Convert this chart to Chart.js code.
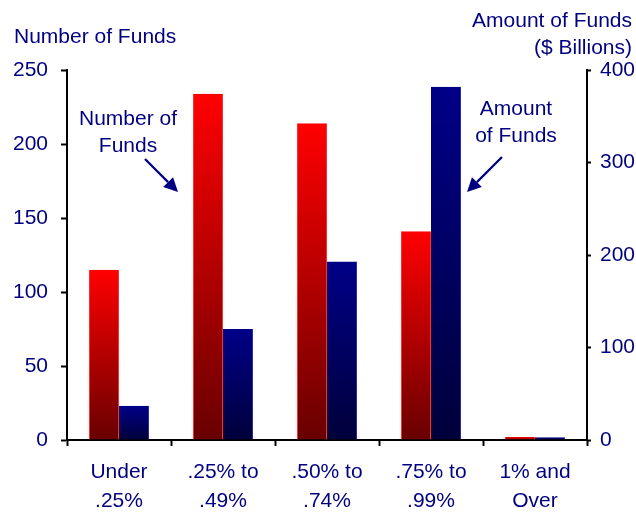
<!DOCTYPE html>
<html>
<head>
<meta charset="utf-8">
<script src="https://cdn.jsdelivr.net/npm/chart.js@4.4.0/dist/chart.umd.min.js"></script>
<style>
  html, body { margin: 0; padding: 0; background: #ffffff; }
  #wrap { width: 636px; height: 512px; position: relative; }
</style>
</head>
<body>
<div id="wrap"><canvas id="c" width="636" height="512"></canvas></div>
<script>
// ---- data ----
const categories = [['Under', '.25%'], ['.25% to', '.49%'], ['.50% to', '.74%'], ['.75% to', '.99%'], ['1% and', 'Over']];
const numberOfFunds = [115, 234, 214, 141, 2];
const amountOfFunds = [37, 120, 193, 382, 3];   // $ billions
const leftTicks = [0, 50, 100, 150, 200, 250];
const rightTicks = [0, 100, 200, 300, 400];
const leftTitle = 'Number of Funds';
const rightTitle = ['Amount of Funds', '($ Billions)'];
const noteNumber = ['Number of', 'Funds'];
const noteAmount = ['Amount', 'of Funds'];

const NAVY = '#000080';
const FONT = "'Liberation Sans', Arial, sans-serif";
Chart.defaults.font.family = FONT;
Chart.defaults.font.size = 21;
Chart.defaults.color = NAVY;

function barGradient(ctx, axisId, topColor, bottomColor) {
  const chart = ctx.chart;
  const sc = chart.scales[axisId];
  if (!sc || ctx.raw == null) return topColor;
  const y0 = sc.getPixelForValue(ctx.raw);
  const y1 = sc.getPixelForValue(0);
  if (!isFinite(y0) || !isFinite(y1) || y0 === y1) return topColor;
  const g = chart.ctx.createLinearGradient(0, y0, 0, y1);
  g.addColorStop(0, topColor);
  g.addColorStop(1, bottomColor);
  return g;
}

const annotations = {
  id: 'annotations',
  afterDraw(chart) {
    const c = chart.ctx;
    c.save();
    c.fillStyle = NAVY;
    c.font = '21px ' + FONT;
    c.textBaseline = 'alphabetic';
    c.textAlign = 'left';
    c.fillText(leftTitle, 14, 43);
    c.textAlign = 'right';
    c.fillText(rightTitle[0], 632, 27);
    c.fillText(rightTitle[1], 632, 54);
    c.textAlign = 'center';
    c.fillText(noteNumber[0], 128, 125);
    c.fillText(noteNumber[1], 128, 152);
    c.fillText(noteAmount[0], 516, 115);
    c.fillText(noteAmount[1], 516, 142);
    // arrows
    function arrow(x1, y1, x2, y2) {
      const ang = Math.atan2(y2 - y1, x2 - x1);
      const hl = 14, hw = 7;
      const bx = x2 - hl * Math.cos(ang), by = y2 - hl * Math.sin(ang);
      c.strokeStyle = NAVY;
      c.lineWidth = 2.2;
      c.beginPath(); c.moveTo(x1, y1); c.lineTo(bx, by); c.stroke();
      c.beginPath();
      c.moveTo(x2, y2);
      c.lineTo(bx + hw * Math.sin(ang), by - hw * Math.cos(ang));
      c.lineTo(bx - hw * Math.sin(ang), by + hw * Math.cos(ang));
      c.closePath();
      c.fill();
    }
    arrow(145, 159, 178, 192);
    arrow(502, 157, 467, 192);
    c.restore();
  }
};

new Chart(document.getElementById('c'), {
  type: 'bar',
  data: {
    labels: categories,
    datasets: [
      {
        label: 'Number of Funds',
        data: numberOfFunds,
        yAxisID: 'yL',
        backgroundColor: (ctx) => barGradient(ctx, 'yL', '#ff0000', '#680000'),
        borderColor: '#ff3030',
        borderWidth: { left: 1, right: 1, top: 0, bottom: 0 },
        borderSkipped: 'bottom'
      },
      {
        label: 'Amount of Funds',
        data: amountOfFunds,
        yAxisID: 'yR',
        backgroundColor: (ctx) => barGradient(ctx, 'yR', '#000088', '#00003a'),
        borderColor: '#2a2ab0',
        borderWidth: { left: 0, right: 1, top: 0, bottom: 0 },
        borderSkipped: 'bottom'
      }
    ]
  },
  options: {
    responsive: false,
    animation: false,
    layout: { padding: { top: 70, left: 0, right: 0, bottom: 0 } },
    plugins: { legend: { display: false }, tooltip: { enabled: false } },
    datasets: { bar: { categoryPercentage: 0.577, barPercentage: 1.0 } },
    scales: {
      x: {
        offset: true,
        grid: { offset: true, drawOnChartArea: false, drawTicks: true, tickLength: 6, tickColor: '#000', tickWidth: 2 },
        border: { display: true, color: '#000', width: 2 },
        ticks: { color: NAVY, padding: 12, maxRotation: 0, autoSkip: false, font: { size: 21, lineHeight: 1.38 } },
        afterFit(s) { s.height = 72; }
      },
      yL: {
        position: 'left',
        min: 0, max: 250,
        afterBuildTicks(s) { s.ticks = leftTicks.map(v => ({ value: v })); },
        grid: { drawOnChartArea: false, drawTicks: true, tickLength: 6, tickColor: '#000', tickWidth: 2 },
        border: { display: true, color: '#000', width: 2 },
        ticks: { color: NAVY, padding: 13, font: { size: 21 } },
        afterFit(s) { s.width = 67; }
      },
      yR: {
        position: 'right',
        min: 0, max: 400,
        afterBuildTicks(s) { s.ticks = rightTicks.map(v => ({ value: v })); },
        grid: { drawOnChartArea: false, drawTicks: true, tickLength: 4, tickColor: '#000', tickWidth: 2 },
        border: { display: true, color: '#000', width: 2 },
        ticks: { color: NAVY, padding: 9, font: { size: 21 } },
        afterFit(s) { s.width = 49; }
      }
    }
  },
  plugins: [annotations]
});
</script>
</body>
</html>
